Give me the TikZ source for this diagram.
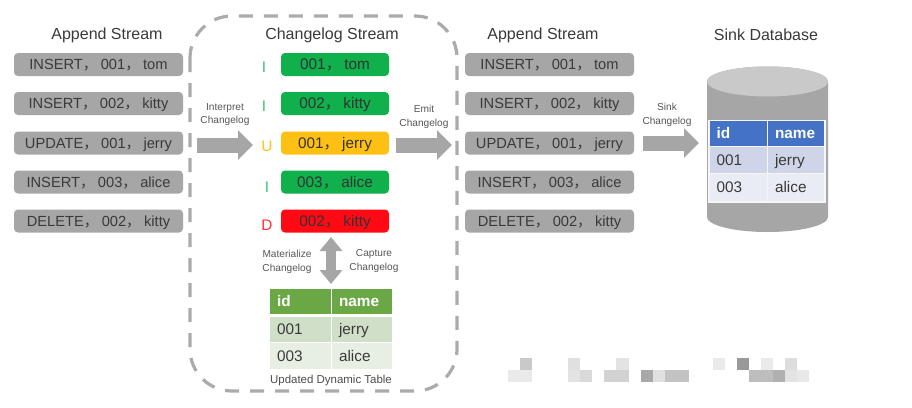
\documentclass[tikz,border=0pt]{standalone}
\usepackage{fontspec}
\setmainfont{Liberation Sans}
\newfontfamily\cjkf{Noto Sans CJK SC}
\usetikzlibrary{arrows.meta,shapes.geometric}
\definecolor{ink}{HTML}{3A3A3A}
\definecolor{boxgray}{HTML}{A6A6A6}
\definecolor{dashgray}{HTML}{ABABAB}
\definecolor{arrgray}{HTML}{A6A6A6}
\definecolor{grn}{HTML}{10B04C}
\definecolor{amb}{HTML}{FFC014}
\definecolor{rd}{HTML}{FF0A14}
\definecolor{HDRG}{HTML}{6AA845}
\definecolor{ROWA}{HTML}{CFDFC8}
\definecolor{ROWB}{HTML}{E7EFE3}
\definecolor{BHDR}{HTML}{4472C4}
\definecolor{BROWA}{HTML}{CFD5E8}
\definecolor{BROWB}{HTML}{E9EBF5}
\definecolor{CYLTOP}{HTML}{C9C9C9}
\def\upx{0.75pt}
\newcommand{\cmma}{{\cjkf ，}\hspace{2.4pt}}
\newcommand{\pixelsq}[3]{\fill[fill=#3] ({508+12.05*#1},#2) rectangle ++(12.05,12);}
\tikzset{x=0.75pt,y=-0.75pt,
 every node/.style={text=ink,inner sep=0pt,outer sep=0pt},
 title/.style={font=\fontsize{12}{14}\selectfont},
 smalltxt/.style={font=\fontsize{7.6}{10.4}\selectfont,align=center,text=ink!85},
 rowbox/.style={rounded corners=3pt,fill=#1,minimum height=23*\upx,font=\fontsize{11}{13}\selectfont,text=ink,text height=7.9pt,text depth=0pt},
 grayrow/.style={rowbox=boxgray,minimum width=169*\upx},
 colrow/.style={rowbox=#1,minimum width=108*\upx,text=black!80,font=\fontsize{11.5}{13}\selectfont},
 tag/.style={font=\fontsize{11.5}{13}\selectfont},
 blockarrow/.style={draw=arrgray,line width=15*\upx,-{Triangle[length=15*\upx,width=29*\upx,fill=arrgray]}},
 cell/.style n args={3}{fill=#1,minimum height=#3*\upx,text width=#2*\upx-14*\upx,inner xsep=7*\upx,align=left,anchor=north west,font=\fontsize{11.5}{13}\selectfont,text height=8pt,text depth=0pt},
 hcell/.style n args={3}{cell={#1}{#2}{#3},text=white,font=\fontsize{11.5}{13}\selectfont\bfseries},
}
\begin{document}
\begin{tikzpicture}
\useasboundingbox (0,0) rectangle (912,407);
\fill[white] (0,0) rectangle (912,407);

% container
\draw[dashgray,line width=3.2*\upx,dash pattern=on 14*\upx off 11*\upx,rounded corners=42*\upx]
  (190,16) rectangle (457,391);

% titles
\node[title] (t1) at (107,35) {Append Stream};
\node[title] (t2) at (332,35) {Changelog Stream};
\node[title] (t3) at (543,35) {Append Stream};
\node[title] (t4) at (766,35) {Sink Database};

% left stream
\node[grayrow] (a1) at (98.5,64.5) {INSERT\cmma 001\cmma tom};
\node[grayrow] (a2) at (98.5,103.5) {INSERT\cmma 002\cmma kitty};
\node[grayrow] (a3) at (98.5,143) {UPDATE\cmma 001\cmma jerry};
\node[grayrow] (a4) at (98.5,182) {INSERT\cmma 003\cmma alice};
\node[grayrow] (a5) at (98.5,221) {DELETE\cmma 002\cmma kitty};

% changelog
\node[colrow=grn] (c1) at (335,64.5) {001\cmma tom};
\node[colrow=grn] (c2) at (335,103.5) {002\cmma kitty};
\node[colrow=amb] (c3) at (335,143) {001\cmma jerry};
\node[colrow=grn] (c4) at (335,182) {003\cmma alice};
\node[colrow=rd] (c5) at (335,221) {002\cmma kitty};
\node[tag,text=grn!80] (l1) at (264,67) {I};
\node[tag,text=grn!80] (l2) at (264,106) {I};
\node[tag,text=amb] (l3) at (267,146) {U};
\node[tag,text=grn!80] (l4) at (267,187) {I};
\node[tag,text=rd!85] (l5) at (267,225) {D};

% right stream
\node[grayrow] (b1) at (549.5,64.5) {INSERT\cmma 001\cmma tom};
\node[grayrow] (b2) at (549.5,103.5) {INSERT\cmma 002\cmma kitty};
\node[grayrow] (b3) at (549.5,143) {UPDATE\cmma 001\cmma jerry};
\node[grayrow] (b4) at (549.5,182) {INSERT\cmma 003\cmma alice};
\node[grayrow] (b5) at (549.5,221) {DELETE\cmma 002\cmma kitty};

% dynamic table
\node[hcell={HDRG}{61}{25}] (h1) at (270,289) {id};
\node[hcell={HDRG}{60}{25}] (h2) at (332,289) {name};
\node[cell={ROWA}{61}{25}] (r11) at (270,317) {001};
\node[cell={ROWA}{60}{25}] (r12) at (332,317) {jerry};
\node[cell={ROWB}{61}{26}] (r21) at (270,343) {003};
\node[cell={ROWB}{60}{26}] (r22) at (332,343) {alice};
\node[font=\fontsize{8.6}{10}\selectfont,text=ink!90] (cap) at (331,381) {Updated Dynamic Table};

% cylinder
\fill[boxgray] (707,81.5) -- (707,217) arc[start angle=180,end angle=360,x radius=60.5,y radius=-15]
   -- (828,81.5) arc[start angle=0,end angle=180,x radius=60.5,y radius=-15] -- cycle;
\fill[CYLTOP] (767.5,81.5) ellipse[x radius=60.5,y radius=15];

% sink table
\fill[white!90!boxgray] (707.5,119.5) rectangle (825.5,202.5);
\node[hcell={BHDR}{57}{25}] (s1) at (709.5,121) {id};
\node[hcell={BHDR}{56}{25}] (s2) at (768,121) {name};
\node[cell={BROWA}{57}{26}] (s11) at (709.5,147) {001};
\node[cell={BROWA}{56}{26}] (s12) at (768,147) {jerry};
\node[cell={BROWB}{57}{27}] (s21) at (709.5,174) {003};
\node[cell={BROWB}{56}{27}] (s22) at (768,174) {alice};

% arrows
\coordinate (ia) at (197,145); \coordinate (ib) at (253,145);
\coordinate (ea) at (396,145); \coordinate (eb) at (452,145);
\coordinate (sa) at (643,143); \coordinate (sb) at (699,143);
\draw[blockarrow] (ia) -- (ib);
\draw[blockarrow] (ea) -- (eb);
\draw[blockarrow] (sa) -- (sb);
\coordinate (da) at (331,237); \coordinate (db) at (331,284);
\draw[draw=arrgray,line width=10*\upx,{Triangle[length=14*\upx,width=22*\upx,fill=arrgray]}-{Triangle[length=14*\upx,width=22*\upx,fill=arrgray]}] (da) -- (db);

% arrow labels
\node[smalltxt] (n1) at (225,114.5) {Interpret\\Changelog};
\node[smalltxt] (n2) at (424,116.5) {Emit\\Changelog};
\node[smalltxt] (n3) at (667,114.5) {Sink\\Changelog};
\node[smalltxt] (n4) at (287,262) {Materialize\\Changelog};
\node[smalltxt] (n5) at (374,261) {Capture\\Changelog};

% pixelated patch
\foreach \ci/\col in {1/C9C9C9,5/E0E0E0,9/E3E3E3,17/EAEAEA,19/999999,21/EAEAEA,23/DDDDDD}{
  \definecolor{px}{HTML}{\col}\pixelsq{\ci}{358}{px}}
\foreach \ci/\col in {0/EAEAEA,1/EAEAEA,5/E3E3E3,6/D9D9D9,8/D2D2D2,9/D2D2D2,11/A8A8A8,12/E0E0E0,13/C3C3C3,14/C3C3C3,20/BDBDBD,21/BDBDBD,22/B0B0B0,23/E3E3E3,24/E8E8E8}{
  \definecolor{px}{HTML}{\col}\pixelsq{\ci}{370}{px}}
\end{tikzpicture}
\end{document}
